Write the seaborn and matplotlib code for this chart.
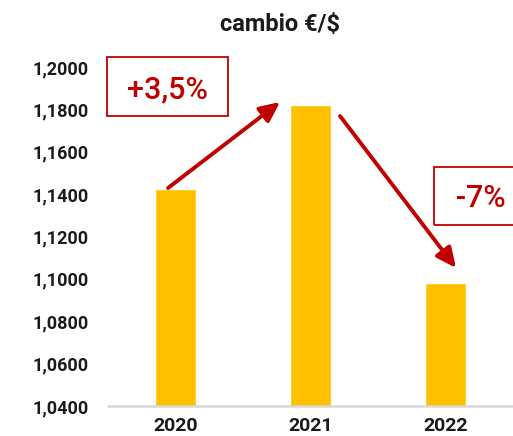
import matplotlib
matplotlib.use("Agg")
import matplotlib.pyplot as plt
from matplotlib.patches import Rectangle
from matplotlib.ticker import FuncFormatter
import seaborn as sns
import pandas as pd

years = ["2020", "2021", "2022"]
rates = [1.1422, 1.1822, 1.0982]
changes = ["+3,5%", "-7%"]
y_ticks = [1.04, 1.06, 1.08, 1.10, 1.12, 1.14, 1.16, 1.18, 1.20]

BAR = "#FFC000"
RED = "#C00000"
W, H = 513, 436

sns.set_theme(style="white")
plt.rcParams["font.family"] = ["Roboto", "DejaVu Sans"]

df = pd.DataFrame({"year": years, "rate": rates})

fig = plt.figure(figsize=(W / 100, H / 100), dpi=100)
ax = fig.add_axes([108 / W, 1 - 406 / H, (W - 108) / W, (406 - 67) / H])
sns.barplot(data=df, x="year", y="rate", color=BAR, saturation=1, width=0.31, ax=ax)

ax.set_xlim(-0.5, 2.5)
ax.set_ylim(1.04, 1.20)
ax.set_yticks(y_ticks)
ax.yaxis.set_major_formatter(FuncFormatter(lambda v, p: f"{v:.4f}".replace(".", ",")))
ax.set_xlabel("")
ax.set_ylabel("")
for s in ["top", "right", "left"]:
    ax.spines[s].set_visible(False)
ax.spines["bottom"].set_color("#D9D9D9")
ax.spines["bottom"].set_linewidth(1.8)
ax.tick_params(axis="y", length=0, pad=14, labelsize=13, labelcolor="#1a1a1a")
ax.tick_params(axis="x", length=0, pad=8, labelsize=14, labelcolor="#1a1a1a")
for lab in ax.get_yticklabels() + ax.get_xticklabels():
    lab.set_fontweight("bold")

fig.text(280 / W, 1 - 25 / H, "cambio €/$", ha="center", va="center",
         fontsize=17, fontweight="bold", color="#1a1a1a")

def px(x, y):
    return (x / W, 1 - y / H)

arrow = dict(arrowstyle="-|>,head_length=0.6,head_width=0.28", lw=2.8,
             color=RED, shrinkA=0, shrinkB=0, mutation_scale=20)
ax.annotate("", xy=px(280, 102), xytext=px(168, 188),
            xycoords="figure fraction", textcoords="figure fraction",
            arrowprops=arrow, annotation_clip=False)
ax.annotate("", xy=px(456, 268), xytext=px(340, 116),
            xycoords="figure fraction", textcoords="figure fraction",
            arrowprops=arrow, annotation_clip=False)

fig.add_artist(Rectangle((107 / W, 1 - 116 / H), 121 / W, 59 / H,
                         transform=fig.transFigure, fill=False, ec=RED, lw=1.3))
fig.add_artist(Rectangle((434 / W, 1 - 225 / H), 121 / W, 58 / H,
                         transform=fig.transFigure, fill=False, ec=RED, lw=1.3))
fig.text(167 / W, 1 - 90 / H, changes[0], ha="center", va="center",
         fontsize=22, color=RED, fontweight="medium")
fig.text(481 / W, 1 - 198 / H, changes[1], ha="center", va="center",
         fontsize=22, color=RED, fontweight="medium")

fig.savefig("out.png", dpi=100)
